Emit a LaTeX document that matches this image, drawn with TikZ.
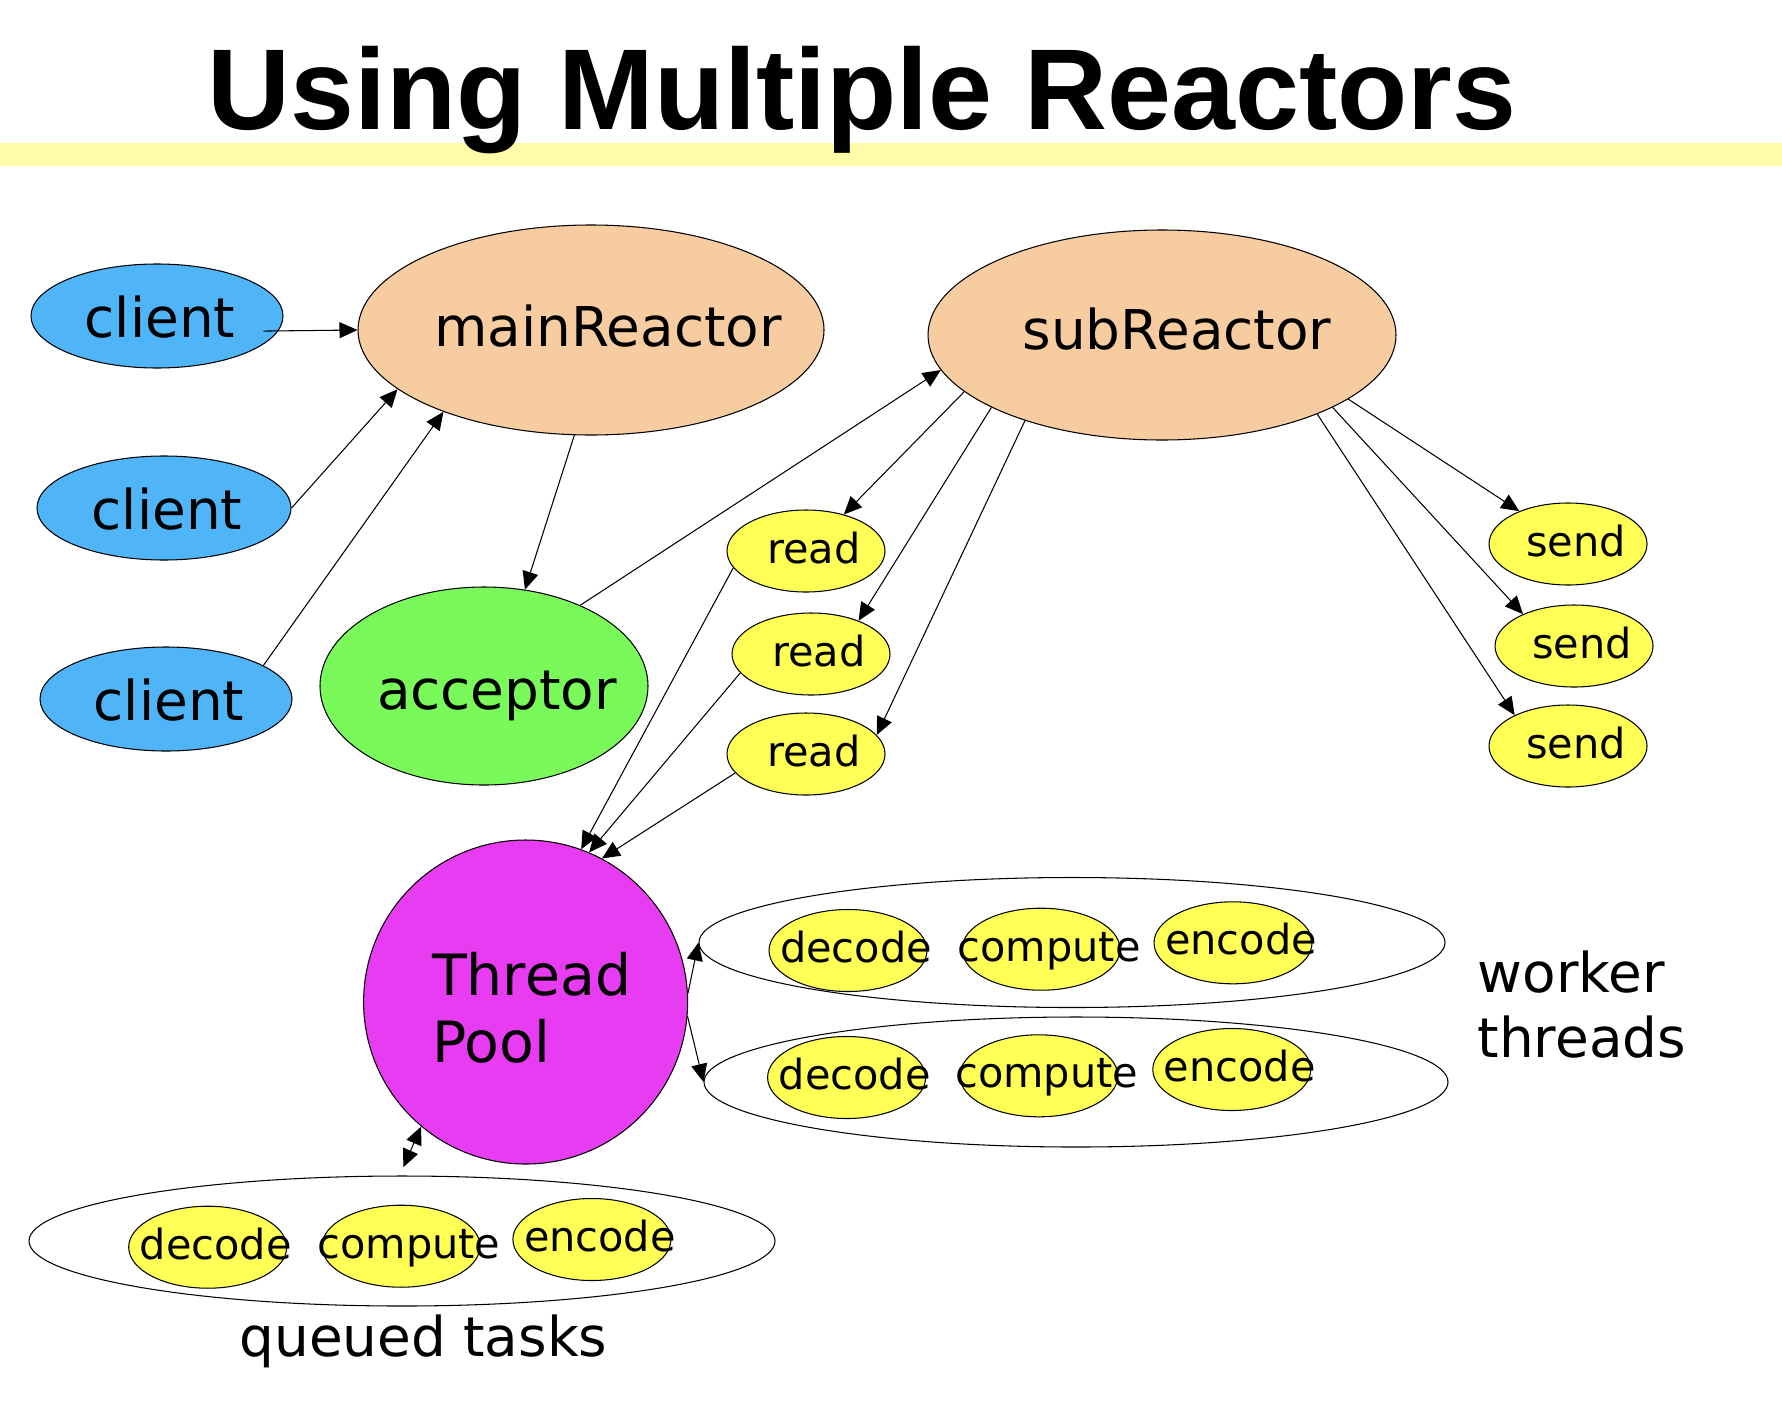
\documentclass[tikz,border=0pt]{standalone}
\usepackage{fontspec}
\setmainfont{DejaVu Sans}
\newfontfamily\titlefont{Liberation Sans}
\usepackage{tikz}
\usetikzlibrary{shapes.geometric,arrows.meta}
\definecolor{clientblue}{RGB}{80,180,248}
\definecolor{reactorpeach}{RGB}{246,204,160}
\definecolor{acceptgreen}{RGB}{122,250,90}
\definecolor{poolmagenta}{RGB}{232,60,242}
\definecolor{taskyellow}{RGB}{255,255,85}
\definecolor{bandyellow}{RGB}{255,251,168}

\begin{document}
\begin{tikzpicture}[
                shp/.style={ellipse, draw, line width=0.3pt, inner sep=0pt},
                task/.style={shp, fill=taskyellow, minimum width=1.58cm, minimum height=0.82cm},
                bigfont/.style={font=\fontsize{15.6}{18.7}\selectfont},
                bigtxt/.style={bigfont, text height=0.42cm, text depth=0cm},
                smalltxt/.style={font=\fontsize{11.8}{14}\selectfont, text height=0.32cm, text depth=0.08cm, xshift=0.8mm},
                arr/.style={-{Triangle[length=1.8mm,width=1.6mm]}, line width=0.3pt},
                dblarr/.style={{Triangle[length=1.8mm,width=1.6mm]}-{Triangle[length=1.8mm,width=1.6mm]}, line width=0.3pt}
            ]
                \useasboundingbox (0,0) rectangle (17.82,14.16);
                \fill[bandyellow] (0,12.50) rectangle (17.82,12.73);
                \node[font=\titlefont\bfseries\fontsize{32.7}{38}\selectfont, anchor=base, inner sep=0pt] (title) at (8.62,12.87) {Using Multiple Reactors};

                \node[shp, fill=clientblue, minimum width=2.52cm, minimum height=1.04cm, label={[bigtxt, xshift=0.3mm]center:client}] (c1) at (1.57,11.00) {};
                \node[shp, fill=clientblue, minimum width=2.54cm, minimum height=1.04cm, label={[bigtxt, xshift=0.3mm]center:client}] (c2) at (1.64,9.08) {};
                \node[shp, fill=clientblue, minimum width=2.52cm, minimum height=1.04cm, label={[bigtxt, xshift=0.3mm]center:client}] (c3) at (1.66,7.17) {};
                \node[shp, fill=reactorpeach, minimum width=4.66cm, minimum height=2.10cm, label={[bigtxt, xshift=1.7mm, yshift=0.45mm]center:mainReactor}] (main) at (5.91,10.86) {};
                \node[shp, fill=reactorpeach, minimum width=4.68cm, minimum height=2.10cm, label={[bigtxt, xshift=1.5mm, yshift=0.7mm]center:subReactor}] (sub) at (11.62,10.81) {};
                \node[shp, fill=acceptgreen, minimum width=3.28cm, minimum height=1.98cm, label={[bigtxt, xshift=1.3mm, yshift=-0.2mm]center:acceptor}] (acc) at (4.84,7.30) {};

                \node[task, label={[smalltxt]center:read}] (r1) at (8.06,8.65) {};
                \node[task, label={[smalltxt]center:read}] (r2) at (8.11,7.62) {};
                \node[task, label={[smalltxt]center:read}] (r3) at (8.06,6.62) {};
                \node[task, label={[smalltxt]center:send}] (s1) at (15.68,8.72) {};
                \node[task, label={[smalltxt]center:send}] (s2) at (15.74,7.70) {};
                \node[task, label={[smalltxt]center:send}] (s3) at (15.68,6.70) {};

                \node[circle, draw, line width=0.3pt, fill=poolmagenta, minimum size=3.24cm, inner sep=0pt,
                      label={[font=\fontsize{16.2}{19}\selectfont, align=left, xshift=0.6mm, yshift=-0.6mm]center:Thread\\Pool}] (tp) at (5.256,4.14) {};

                \node[shp, minimum width=7.46cm, minimum height=1.30cm] (w1) at (10.72,4.735) {};
                \node[shp, minimum width=7.44cm, minimum height=1.30cm] (w2) at (10.76,3.34) {};
                \node[shp, minimum width=7.46cm, minimum height=1.30cm] (q) at (4.02,1.75) {};

                \node[task, label={[smalltxt]center:decode}] (w1d) at (8.48,4.655) {};
                \node[task, label={[smalltxt]center:compute}] (w1c) at (10.41,4.668) {};
                \node[task, label={[smalltxt]center:encode}] (w1e) at (12.33,4.732) {};
                \node[task, label={[smalltxt]center:decode}] (w2d) at (8.466,3.385) {};
                \node[task, label={[smalltxt]center:compute}] (w2c) at (10.388,3.402) {};
                \node[task, label={[smalltxt]center:encode}] (w2e) at (12.318,3.465) {};
                \node[task, label={[smalltxt]center:decode}] (qd) at (2.077,1.688) {};
                \node[task, label={[smalltxt]center:compute}] (qc) at (4.01,1.698) {};
                \node[task, label={[smalltxt]center:encode}] (qe) at (5.919,1.765) {};

                \node[bigfont, align=left, anchor=west, inner sep=0pt] (wt) at (14.77,4.115) {worker\\threads};
                \node[bigfont, anchor=base, inner sep=0pt] (qt) at (4.235,0.593) {queued tasks};

                \draw[arr, shorten <=-1.5mm] (c1.-7) -- (main.west);
                \draw[arr] (c2.east) -- (main.197);
                \draw[arr] (c3.19) -- (main.209);
                \draw[arr] (main.261) -- (acc.67);
                \draw[arr] (acc.40) -- (sub.189);
                \draw[arr] (sub.196) -- (r1.44);
                \draw[arr] (sub.203) -- (r2.35);
                \draw[arr] (sub.212) -- (r3.15);
                \draw[arr] (r1.193) -- (tp.70);
                \draw[arr] (r2.195) -- (tp.67);
                \draw[arr] (r3.195) -- (tp.62);
                \draw[arr] (sub.-19) -- (s1.146);
                \draw[arr] (sub.-23) -- (s2.148);
                \draw[arr] (sub.-27) -- (s3.150);
                \draw[arr] (tp.3) -- (w1.west);
                \draw[arr] (tp.-5) -- (w2.west);
                \draw[dblarr, shorten >=0.9mm] (tp.230) -- (q.92);
            \end{tikzpicture}
\end{document}
